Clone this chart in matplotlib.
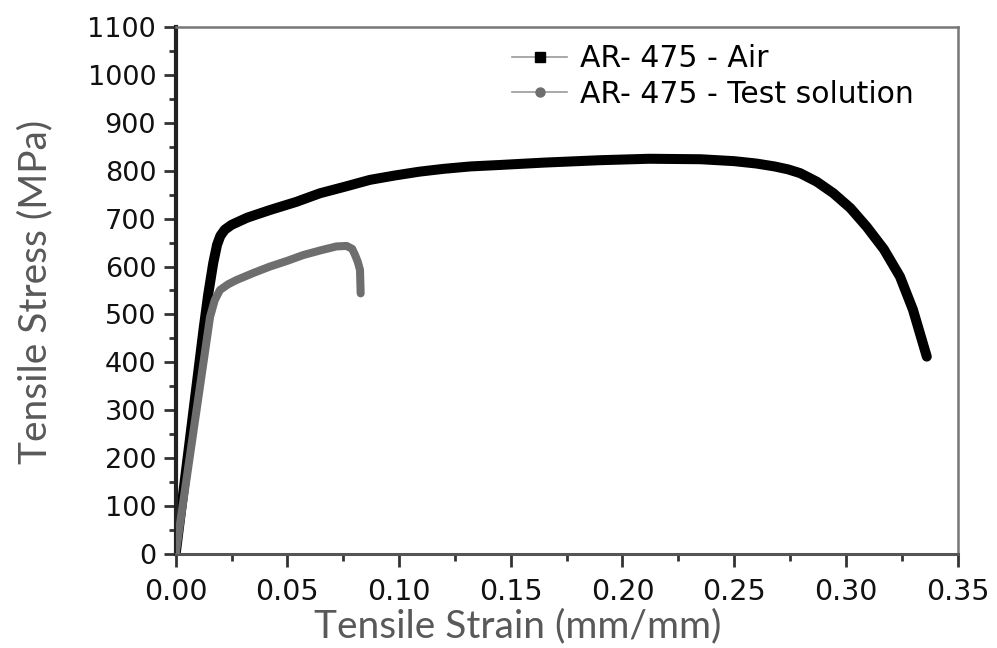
import matplotlib
matplotlib.use("Agg")
import matplotlib.pyplot as plt
from matplotlib.lines import Line2D
from matplotlib.ticker import MultipleLocator

# AR-475 tensile curves
air_strain = [0.0, 0.0125, 0.0145, 0.0168, 0.0185, 0.0200, 0.0220, 0.0250, 0.0320,
              0.0422, 0.0540, 0.0646, 0.0760, 0.0870, 0.0980, 0.1090, 0.1200,
              0.1320, 0.1450, 0.1650, 0.1900, 0.2120, 0.2350, 0.2500, 0.2600,
              0.2680, 0.2740, 0.2795, 0.2870, 0.2944, 0.3020, 0.3093, 0.3170,
              0.3242, 0.3300, 0.3362]
air_stress = [0, 470, 540, 607, 645, 664, 677, 687, 702,
              718, 735, 753, 767, 781, 790, 798, 804,
              809, 812, 817, 822, 825, 824, 820, 815,
              809, 803, 795, 777, 753, 722, 683, 636,
              579, 510, 412]

sol_strain = [0.0, 0.0154, 0.0175, 0.0198, 0.0235, 0.0273, 0.0350, 0.0422, 0.0500,
              0.0571, 0.0650, 0.0720, 0.0765, 0.0790, 0.0803, 0.0815, 0.0825,
              0.0828]
sol_stress = [0, 495, 530, 551, 563, 572, 587, 600, 612,
              624, 634, 642, 643, 637, 624, 610, 593,
              544]

x_ticks = [0.00, 0.05, 0.10, 0.15, 0.20, 0.25, 0.30, 0.35]
y_ticks = list(range(0, 1101, 100))

GRAY = "#6e6e6e"
SPINE = "#555555"
LABEL = "#595959"

fig = plt.figure(figsize=(9.97, 6.48), dpi=100)
ax = fig.add_axes([0.1762, 0.1451, 0.7843, 0.8132])

ax.plot(air_strain, air_stress, color="black", lw=7.2,
        solid_capstyle="round", solid_joinstyle="round", zorder=2)
ax.plot(sol_strain, sol_stress, color=GRAY, lw=5.8,
        solid_capstyle="round", solid_joinstyle="round", zorder=3)

ax.set_xlim(0, 0.35)
ax.set_ylim(0, 1100)
ax.set_xticks(x_ticks)
ax.set_xticklabels([f"{v:.2f}" for v in x_ticks])
ax.set_yticks(y_ticks)
ax.xaxis.set_minor_locator(MultipleLocator(0.025))
ax.yaxis.set_minor_locator(MultipleLocator(50))

for lab in ax.get_xticklabels():
    lab.set_fontsize(20.5)
for lab in ax.get_yticklabels():
    lab.set_fontsize(19.5)

ax.tick_params(which="major", direction="out", length=9, width=2,
               color="#333333", labelcolor="#111111")
ax.tick_params(axis="x", which="major", pad=8)
ax.tick_params(axis="y", which="major", pad=5)
ax.tick_params(which="minor", direction="out", length=5, width=2,
               color="#333333")
ax.tick_params(top=False, right=False, which="both")

ax.spines["left"].set_linewidth(3)
ax.spines["left"].set_color("#222222")
ax.spines["bottom"].set_linewidth(2.2)
ax.spines["bottom"].set_color(SPINE)
for side in ("top", "right"):
    ax.spines[side].set_linewidth(1.8)
    ax.spines[side].set_color("#777777")

fig.text(0.519, 0.017, "Tensile Strain (mm/mm)", ha="center", va="baseline",
         fontsize=28, color=LABEL, family="Lato")
fig.text(0.035, 0.55, "Tensile Stress (MPa)", ha="center", va="center",
         rotation=90, fontsize=28, color=LABEL, family="Lato")

handles = [
    Line2D([], [], color="#9a9a9a", lw=1.2, marker="s", markersize=6.5,
           markerfacecolor="black", markeredgecolor="black"),
    Line2D([], [], color="#9a9a9a", lw=1.2, marker="o", markersize=6.5,
           markerfacecolor=GRAY, markeredgecolor=GRAY),
]
ax.legend(handles, ["AR- 475 - Air", "AR- 475 - Test solution"],
          loc="upper left", bbox_to_anchor=(0.5135, 0.932),
          bbox_transform=fig.transFigure, frameon=False,
          prop={"size": 21.5}, handlelength=1.85, handletextpad=0.42,
          labelspacing=0.22, borderaxespad=0, borderpad=0)

fig.savefig("out.png", dpi=100)
